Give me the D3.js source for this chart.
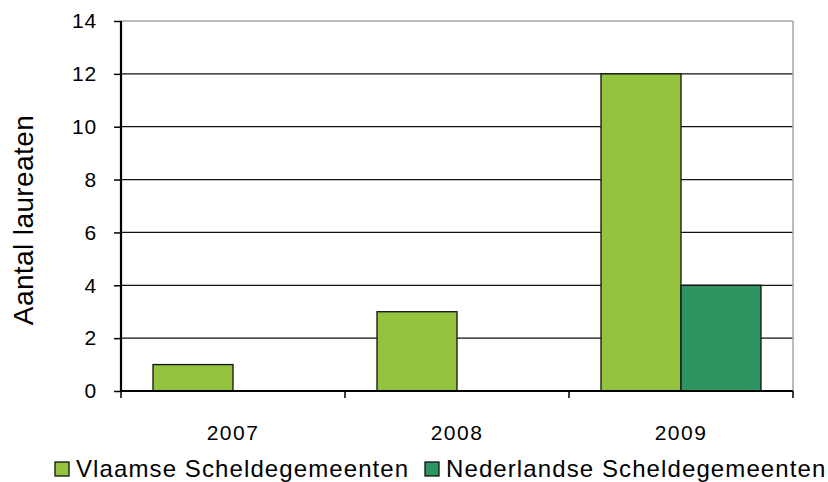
<!DOCTYPE html>
<html>
<head>
<meta charset="utf-8">
<script src="https://cdn.jsdelivr.net/npm/d3@7"></script>
<style>
  html, body { margin: 0; padding: 0; background: #fff; }
  svg { display: block; font-family: "Liberation Sans", Arial, sans-serif; }
</style>
</head>
<body>
<svg id="chart" width="828" height="482"></svg>
<script>
const categories = ["2007", "2008", "2009"];
const seriesNames = ["Vlaamse Scheldegemeenten", "Nederlandse Scheldegemeenten"];
const vlaamse = [1, 3, 12];
const nederlandse = [0, 0, 4];
const yTicks = [0, 2, 4, 6, 8, 10, 12, 14];
const colors = ["#93C33F", "#2E9462"];
const yTitle = "Aantal laureaten";

const seriesValues = [vlaamse, nederlandse];
const svg = d3.select("#chart");
const pLeft = 121, pRight = 793, pTop = 21, pBottom = 391;

const x = d3.scaleBand().domain(categories).range([pLeft, pRight]).padding(0);
const xs = d3.scaleBand().domain(seriesNames).range([0, x.bandwidth()]).paddingInner(0).paddingOuter(0.4);
const y = d3.scaleLinear().domain([0, 14]).range([pBottom, pTop]);

// gridlines
svg.append("g").selectAll("line").data(yTicks.filter(d => d > 0 && d < 14)).join("line")
  .attr("x1", pLeft).attr("x2", pRight)
  .attr("y1", d => y(d)).attr("y2", d => y(d))
  .attr("stroke", "#111").attr("stroke-width", 1.2);

// plot border top/right (gray)
svg.append("line").attr("x1", pLeft).attr("x2", pRight).attr("y1", y(14)).attr("y2", y(14))
  .attr("stroke", "#a6a6a6").attr("stroke-width", 1.5);
svg.append("line").attr("x1", pRight).attr("x2", pRight).attr("y1", y(14)).attr("y2", pBottom)
  .attr("stroke", "#a6a6a6").attr("stroke-width", 1.5);

// bars
const rows = categories.map((c, i) => ({ cat: c, vals: seriesNames.map((s, j) => ({ s, j, v: seriesValues[j][i] })) }));
svg.append("g").selectAll("g").data(rows).join("g")
  .attr("transform", d => `translate(${x(d.cat)},0)`)
  .selectAll("rect").data(d => d.vals.filter(v => v.v > 0)).join("rect")
  .attr("x", d => xs(d.s)).attr("width", xs.bandwidth())
  .attr("y", d => y(d.v)).attr("height", d => y(0) - y(d.v))
  .attr("fill", d => colors[d.j]).attr("stroke", "#111").attr("stroke-width", 1.3);

// y axis
const yAxis = svg.append("g").attr("transform", `translate(${pLeft},0)`)
  .call(d3.axisLeft(y).tickValues(yTicks).tickSize(7).tickPadding(17).tickFormat(d3.format("d")));
yAxis.select(".domain").attr("stroke", "#000").attr("stroke-width", 2.2).attr("d", `M0,${pTop}V${pBottom}`);
yAxis.selectAll(".tick line").attr("stroke", "#000").attr("stroke-width", 1.5);
yAxis.selectAll(".tick text").attr("font-size", 21).attr("fill", "#000")
  .attr("font-family", "Liberation Sans, Arial, sans-serif").style("letter-spacing", "0.8px");

// x axis
const xAxis = svg.append("g").attr("transform", `translate(0,${pBottom})`)
  .call(d3.axisBottom(x).tickSize(0).tickPadding(34));
xAxis.select(".domain").attr("stroke", "#000").attr("stroke-width", 2.2).attr("d", `M${pLeft},0H${pRight}`);
xAxis.selectAll(".tick text").attr("font-size", 21).attr("fill", "#000")
  .attr("font-family", "Liberation Sans, Arial, sans-serif").style("letter-spacing", "1.5px");
// boundary ticks
const bounds = categories.map(c => x(c)).concat([pRight]);
xAxis.selectAll("line.bt").data(bounds).join("line").attr("class", "bt")
  .attr("x1", d => d).attr("x2", d => d).attr("y1", 0).attr("y2", 7)
  .attr("stroke", "#000").attr("stroke-width", 1.5);

// y title
svg.append("text").attr("transform", `translate(33,${(115 + 325) / 2}) rotate(-90)`)
  .attr("text-anchor", "middle").attr("font-size", 28).style("letter-spacing", "0.4px")
  .attr("fill", "#000").text(yTitle);

// legend
const legendX = [55, 425];
const lg = svg.append("g").selectAll("g").data(seriesNames).join("g")
  .attr("transform", (d, i) => `translate(${legendX[i]},0)`);
lg.append("rect").attr("x", 0).attr("y", 462).attr("width", 14).attr("height", 14)
  .attr("fill", (d, i) => colors[i]).attr("stroke", "#111").attr("stroke-width", 1.3);
lg.append("text").attr("x", 21).attr("y", 477).attr("font-size", 24)
  .style("letter-spacing", "1.1px").attr("fill", "#000").text(d => d);
</script>
</body>
</html>
